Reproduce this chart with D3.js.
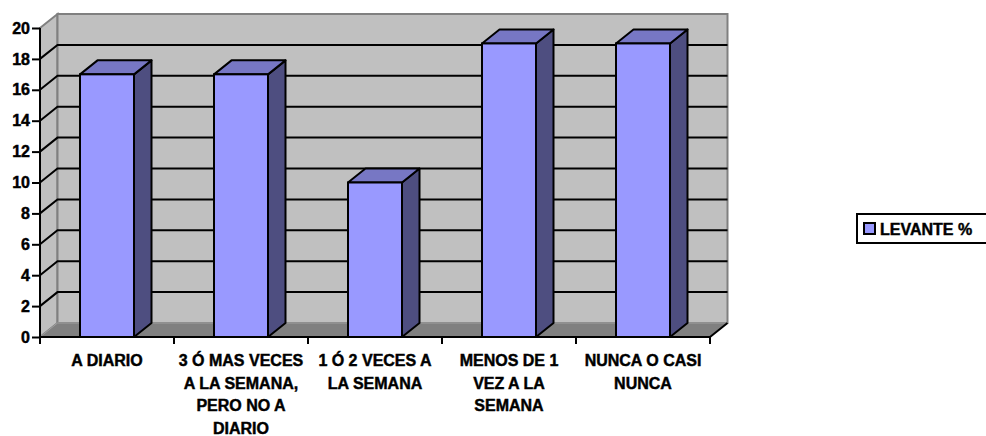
<!DOCTYPE html>
<html><head><meta charset="utf-8">
<script src="https://cdn.jsdelivr.net/npm/d3@7"></script>
<style>body{margin:0;background:#fff}svg{display:block}</style>
</head><body>
<svg id="c" width="986" height="436"></svg>
<script>
const categories = ["A DIARIO","3 Ó MAS VECES A LA SEMANA, PERO NO A DIARIO","1 Ó 2 VECES A LA SEMANA","MENOS DE 1 VEZ A LA SEMANA","NUNCA O CASI NUNCA"];
const categoryLines = [["A DIARIO"],["3 Ó MAS VECES","A LA SEMANA,","PERO NO A","DIARIO"],["1 Ó 2 VECES A","LA SEMANA"],["MENOS DE 1","VEZ A LA","SEMANA"],["NUNCA O CASI","NUNCA"]];
const values = [17,17,10,19,19];
const yTicks = [0,2,4,6,8,10,12,14,16,18,20];
const seriesName = "LEVANTE %";

const svg = d3.select("#c");
const font = "'Liberation Sans', Arial, sans-serif";
const x0 = 40, x1 = 710, yBase = 337, yTop = 28;
const dx = 17.5, dy = 14;
const x = d3.scaleBand().domain(categories).range([x0, x1]).padding(0);
const y = d3.scaleLinear().domain([0, 20]).range([yBase, yTop]);

function heavy(sel) {
  return sel.attr("font-family",font).attr("font-weight","bold").attr("font-size",16)
    .attr("fill","#000").attr("stroke","#000").attr("stroke-width",0.45);
}

// side wall
svg.append("polygon")
  .attr("points", [[x0,y(20)],[x0+dx,y(20)-dy],[x0+dx,yBase-dy],[x0,yBase]].join(" "))
  .attr("fill","#C0C0C0").attr("stroke","#808080").attr("stroke-width",2);
// back wall
svg.append("rect").attr("x",x0+dx).attr("y",y(20)-dy).attr("width",x1-x0).attr("height",yBase-y(20))
  .attr("fill","#C0C0C0").attr("stroke","#808080").attr("stroke-width",2);
// floor
svg.append("polygon")
  .attr("points", [[x0,yBase],[x1,yBase],[x1+dx,yBase-dy],[x0+dx,yBase-dy]].join(" "))
  .attr("fill","#808080").attr("stroke","#A0A0A0").attr("stroke-width",1);
svg.append("line").attr("x1",x1).attr("y1",yBase).attr("x2",x1+dx).attr("y2",yBase-dy)
  .attr("stroke","#000").attr("stroke-width",2);

// gridlines
const grid = yTicks.filter(v => v > 0 && v < 20);
svg.append("g").selectAll("path").data(grid).join("path")
  .attr("d", v => `M${x0},${y(v)}L${x0+dx},${y(v)-dy}L${x1+dx},${y(v)-dy}`)
  .attr("fill","none").attr("stroke","#000").attr("stroke-width",2);

// bars
const bw = 54;
const bars = svg.append("g").selectAll("g").data(values).join("g");
bars.each(function(v, i) {
  const g = d3.select(this);
  const xc = x(categories[i]) + x.bandwidth()/2;
  const l = xc - bw/2, r = xc + bw/2, t = y(v);
  g.append("polygon").attr("points",[[r,t],[r+dx,t-dy],[r+dx,yBase-dy],[r,yBase]].join(" "))
    .attr("fill","#4E4E80").attr("stroke","#000").attr("stroke-width",2).attr("stroke-linejoin","round");
  g.append("polygon").attr("points",[[l,t],[l+dx,t-dy],[r+dx,t-dy],[r,t]].join(" "))
    .attr("fill","#7777C4").attr("stroke","#000").attr("stroke-width",2).attr("stroke-linejoin","round");
  g.append("rect").attr("x",l).attr("y",t).attr("width",bw).attr("height",yBase-t)
    .attr("fill","#9999FF").attr("stroke","#000").attr("stroke-width",2);
});

// y axis
const yAxis = svg.append("g").attr("transform",`translate(${x0},0)`)
  .call(d3.axisLeft(y).tickValues(yTicks).tickSize(8).tickPadding(2).tickFormat(d3.format("d")));
yAxis.select(".domain").attr("stroke","#000").attr("stroke-width",2).attr("d",`M0,${yBase}V${y(20)}`);
yAxis.selectAll(".tick line").attr("stroke","#000").attr("stroke-width",2);
heavy(yAxis.selectAll("text"));

// x axis
const xAxis = svg.append("g").attr("transform",`translate(0,${yBase})`);
xAxis.append("line").attr("x1",x0).attr("x2",x1).attr("stroke","#000").attr("stroke-width",2);
const bounds = categories.map(c => x(c)).concat([x1]);
xAxis.selectAll("line.t").data(bounds).join("line").attr("class","t")
  .attr("x1",d=>d).attr("x2",d=>d).attr("y1",0).attr("y2",7).attr("stroke","#000").attr("stroke-width",2);
const lab = heavy(svg.append("g").selectAll("text").data(categories).join("text")
  .attr("x", c => x(c) + x.bandwidth()/2).attr("y", 366).attr("text-anchor","middle"));
lab.each(function(c, i) {
  d3.select(this).selectAll("tspan").data(categoryLines[i]).join("tspan")
    .attr("x", x(c) + x.bandwidth()/2).attr("dy",(d,j)=> j===0 ? 0 : 22.5).text(d=>d);
});

// legend
const lg = svg.append("g");
lg.append("rect").attr("x",857).attr("y",214).attr("width",140).attr("height",29)
  .attr("fill","#fff").attr("stroke","#000").attr("stroke-width",2);
lg.append("rect").attr("x",864).attr("y",223).attr("width",11).attr("height",11)
  .attr("fill","#9999FF").attr("stroke","#000").attr("stroke-width",2);
heavy(lg.append("text").attr("x",880).attr("y",235)).text(seriesName);
</script>
</body></html>
